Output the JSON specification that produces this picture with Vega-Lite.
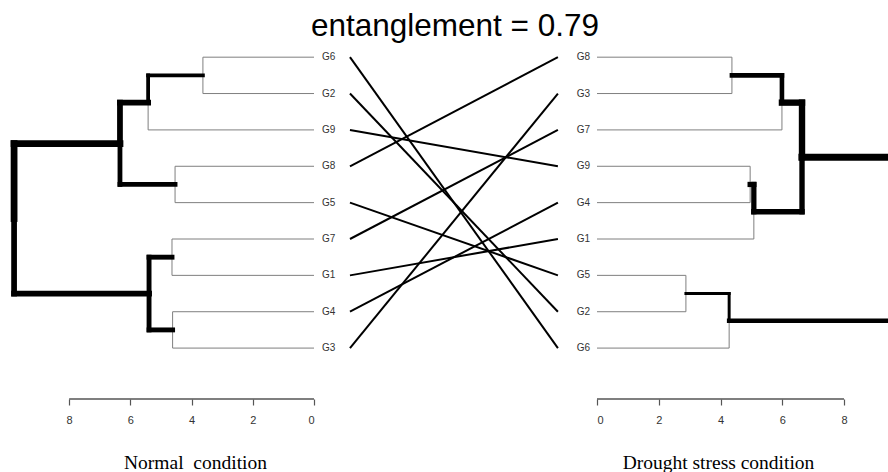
{
  "$schema": "https://vega.github.io/schema/vega-lite/v6.json",
  "usermeta": {"embedOptions": {"actions": false}},
  "padding": {"left": 0, "right": 0, "top": 10, "bottom": 0},
  "title": {"text": "entanglement = 0.79", "font": "Liberation Sans", "fontSize": 31.5, "fontWeight": "normal", "color": "black", "anchor": "middle", "dx": 11, "offset": -3},
  "config": {"view": {"stroke": null}, "concat": {"spacing": 0}},
  "bounds": "flush",
  "spacing": 0,
  "resolve": {"scale": {"x": "independent"}, "axis": {"x": "independent"}},
  "datasets": {
    "left": [
      {"ph": 9.8, "pp": 5.4375, "ch": 6.34, "cp": 3.375, "label": "A"},
      {"ph": 9.8, "pp": 5.4375, "ch": 5.39, "cp": 7.5, "label": "B"},
      {"ph": 6.34, "pp": 3.375, "ch": 5.42, "cp": 2.25, "label": "A1"},
      {"ph": 6.34, "pp": 3.375, "ch": 4.54, "cp": 4.5, "label": "A2"},
      {"ph": 5.42, "pp": 2.25, "ch": 3.63, "cp": 1.5, "label": "A11"},
      {"ph": 5.42, "pp": 2.25, "ch": 0, "cp": 3, "label": "G9"},
      {"ph": 3.63, "pp": 1.5, "ch": 0, "cp": 1, "label": "G6"},
      {"ph": 3.63, "pp": 1.5, "ch": 0, "cp": 2, "label": "G2"},
      {"ph": 4.54, "pp": 4.5, "ch": 0, "cp": 4, "label": "G8"},
      {"ph": 4.54, "pp": 4.5, "ch": 0, "cp": 5, "label": "G5"},
      {"ph": 5.39, "pp": 7.5, "ch": 4.64, "cp": 6.5, "label": "B1"},
      {"ph": 5.39, "pp": 7.5, "ch": 4.62, "cp": 8.5, "label": "B2"},
      {"ph": 4.64, "pp": 6.5, "ch": 0, "cp": 6, "label": "G7"},
      {"ph": 4.64, "pp": 6.5, "ch": 0, "cp": 7, "label": "G1"},
      {"ph": 4.62, "pp": 8.5, "ch": 0, "cp": 8, "label": "G4"},
      {"ph": 4.62, "pp": 8.5, "ch": 0, "cp": 9, "label": "G3"}
    ],
    "right": [
      {"ph": 9.9, "pp": 6, "ch": 6.64, "cp": 3.75, "label": "A"},
      {"ph": 9.9, "pp": 6, "ch": 4.28, "cp": 8.25, "label": "B"},
      {"ph": 6.64, "pp": 3.75, "ch": 5.99, "cp": 2.25, "label": "A1"},
      {"ph": 6.64, "pp": 3.75, "ch": 5.08, "cp": 5.25, "label": "A2"},
      {"ph": 5.99, "pp": 2.25, "ch": 4.37, "cp": 1.5, "label": "A11"},
      {"ph": 5.99, "pp": 2.25, "ch": 0, "cp": 3, "label": "G7"},
      {"ph": 4.37, "pp": 1.5, "ch": 0, "cp": 1, "label": "G8"},
      {"ph": 4.37, "pp": 1.5, "ch": 0, "cp": 2, "label": "G3"},
      {"ph": 5.08, "pp": 5.25, "ch": 4.96, "cp": 4.5, "label": "A21"},
      {"ph": 5.08, "pp": 5.25, "ch": 0, "cp": 6, "label": "G1"},
      {"ph": 4.96, "pp": 4.5, "ch": 0, "cp": 4, "label": "G9"},
      {"ph": 4.96, "pp": 4.5, "ch": 0, "cp": 5, "label": "G4"},
      {"ph": 4.28, "pp": 8.25, "ch": 2.88, "cp": 7.5, "label": "B1"},
      {"ph": 4.28, "pp": 8.25, "ch": 0, "cp": 9, "label": "G6"},
      {"ph": 2.88, "pp": 7.5, "ch": 0, "cp": 7, "label": "G5"},
      {"ph": 2.88, "pp": 7.5, "ch": 0, "cp": 8, "label": "G2"}
    ],
    "links": [
      {"gene": "G6", "l": 1, "r": 9},
      {"gene": "G2", "l": 2, "r": 8},
      {"gene": "G9", "l": 3, "r": 4},
      {"gene": "G8", "l": 4, "r": 1},
      {"gene": "G5", "l": 5, "r": 7},
      {"gene": "G7", "l": 6, "r": 3},
      {"gene": "G1", "l": 7, "r": 6},
      {"gene": "G4", "l": 8, "r": 5},
      {"gene": "G3", "l": 9, "r": 2}
    ],
    "axisrule": [{"from": 0, "to": 8, "base": 10.4}]
  },
  "hconcat": [
    {
      "width": 314,
      "height": 360,
      "data": {"name": "left"},
      "layer": [
        {
          "data": {"name": "axisrule"},
          "mark": {"type": "rule", "color": "#555", "strokeWidth": 1.5},
          "encoding": {
            "x": {"field": "from", "type": "quantitative", "scale": {"domain": [0, 10.26], "reverse": true, "nice": false, "zero": false},
              "axis": {"values": [0, 2, 4, 6, 8], "domain": false, "grid": false, "tickSize": 6, "tickColor": "#555", "tickWidth": 1.2, "labelFont": "Liberation Sans", "labelFontSize": 11, "labelColor": "#333", "labelPadding": 9, "title": "Normal\u00a0 condition", "titleFont": "Liberation Serif", "titleFontSize": 19.5, "titleFontWeight": "normal", "titleColor": "black", "titleX": 195, "titleY": 69, "titleBaseline": "alphabetic", "titleAnchor": "middle"}},
            "x2": {"field": "to"},
            "y": {"field": "base", "type": "quantitative", "scale": {"domain": [0.5, 10.4], "reverse": true, "nice": false, "zero": false}, "axis": null}
          }
        },
        {
          "transform": [{"filter": "datum.ch == 0"}],
          "mark": {"type": "rule", "color": "#7f7f7f", "strokeWidth": 1},
          "encoding": {
            "x": {"field": "ph", "type": "quantitative"},
            "y": {"field": "pp", "type": "quantitative"},
            "y2": {"field": "cp"}
          }
        },
        {
          "transform": [{"filter": "datum.ch == 0"}],
          "mark": {"type": "rule", "color": "#7f7f7f", "strokeWidth": 1},
          "encoding": {
            "x": {"field": "ph", "type": "quantitative"},
            "x2": {"field": "ch"},
            "y": {"field": "cp", "type": "quantitative"}
          }
        },
        {
          "transform": [{"filter": "datum.ch > 0"}],
          "mark": {"type": "rule", "color": "black", "strokeCap": "square"},
          "encoding": {
            "x": {"field": "ph", "type": "quantitative"},
            "y": {"field": "pp", "type": "quantitative"},
            "y2": {"field": "cp"},
            "strokeWidth": {"field": "ch", "type": "quantitative", "scale": {"domain": [2, 7], "range": [2, 7.5], "zero": false}, "legend": null}
          }
        },
        {
          "transform": [{"filter": "datum.ch > 0"}],
          "mark": {"type": "rule", "color": "black", "strokeCap": "square"},
          "encoding": {
            "x": {"field": "ph", "type": "quantitative"},
            "x2": {"field": "ch"},
            "y": {"field": "cp", "type": "quantitative"},
            "strokeWidth": {"field": "ch", "type": "quantitative", "scale": {"domain": [2, 7], "range": [2, 7.5], "zero": false}, "legend": null}
          }
        },
        {
          "transform": [{"filter": "datum.ch == 0"}],
          "mark": {"type": "text", "align": "left", "baseline": "middle", "dx": 8, "font": "Liberation Sans", "fontSize": 10, "color": "#333"},
          "encoding": {
            "x": {"field": "ch", "type": "quantitative"},
            "y": {"field": "cp", "type": "quantitative"},
            "text": {"field": "label"}
          }
        }
      ]
    },
    {
      "width": 283,
      "height": 360,
      "data": {"name": "links"},
      "mark": {"type": "rule", "color": "black", "strokeWidth": 2},
      "encoding": {
        "x": {"datum": 0, "type": "quantitative", "scale": {"domain": [-0.173, 1.188], "nice": false, "zero": false}, "axis": null},
        "x2": {"datum": 1},
        "y": {"field": "l", "type": "quantitative", "scale": {"domain": [0.5, 10.4], "reverse": true, "nice": false, "zero": false}, "axis": null},
        "y2": {"field": "r"}
      }
    },
    {
      "width": 291,
      "height": 360,
      "data": {"name": "right"},
      "layer": [
        {
          "data": {"name": "axisrule"},
          "mark": {"type": "rule", "color": "#555", "strokeWidth": 1.5},
          "encoding": {
            "x": {"field": "from", "type": "quantitative", "scale": {"domain": [0, 9.425], "nice": false, "zero": false},
              "axis": {"values": [0, 2, 4, 6, 8], "domain": false, "grid": false, "tickSize": 6, "tickColor": "#555", "tickWidth": 1.2, "labelFont": "Liberation Sans", "labelFontSize": 11, "labelColor": "#333", "labelPadding": 9, "title": "Drought stress condition", "titleFont": "Liberation Serif", "titleFontSize": 19.5, "titleFontWeight": "normal", "titleColor": "black", "titleX": 121, "titleY": 69, "titleBaseline": "alphabetic", "titleAnchor": "middle"}},
            "x2": {"field": "to"},
            "y": {"field": "base", "type": "quantitative", "scale": {"domain": [0.5, 10.4], "reverse": true, "nice": false, "zero": false}, "axis": null}
          }
        },
        {
          "transform": [{"filter": "datum.ch == 0"}],
          "mark": {"type": "rule", "color": "#7f7f7f", "strokeWidth": 1, "clip": true},
          "encoding": {
            "x": {"field": "ph", "type": "quantitative"},
            "y": {"field": "pp", "type": "quantitative"},
            "y2": {"field": "cp"}
          }
        },
        {
          "transform": [{"filter": "datum.ch == 0"}],
          "mark": {"type": "rule", "color": "#7f7f7f", "strokeWidth": 1, "clip": true},
          "encoding": {
            "x": {"field": "ph", "type": "quantitative"},
            "x2": {"field": "ch"},
            "y": {"field": "cp", "type": "quantitative"}
          }
        },
        {
          "transform": [{"filter": "datum.ch > 0"}],
          "mark": {"type": "rule", "color": "black", "strokeCap": "square", "clip": true},
          "encoding": {
            "x": {"field": "ph", "type": "quantitative"},
            "y": {"field": "pp", "type": "quantitative"},
            "y2": {"field": "cp"},
            "strokeWidth": {"field": "ch", "type": "quantitative", "scale": {"domain": [2, 7], "range": [2, 7.5], "zero": false}, "legend": null}
          }
        },
        {
          "transform": [{"filter": "datum.ch > 0"}],
          "mark": {"type": "rule", "color": "black", "strokeCap": "square", "clip": true},
          "encoding": {
            "x": {"field": "ph", "type": "quantitative"},
            "x2": {"field": "ch"},
            "y": {"field": "cp", "type": "quantitative"},
            "strokeWidth": {"field": "ch", "type": "quantitative", "scale": {"domain": [2, 7], "range": [2, 7.5], "zero": false}, "legend": null}
          }
        },
        {
          "transform": [{"filter": "datum.ch == 0"}],
          "mark": {"type": "text", "align": "right", "baseline": "middle", "dx": -7, "font": "Liberation Sans", "fontSize": 10, "color": "#333"},
          "encoding": {
            "x": {"field": "ch", "type": "quantitative"},
            "y": {"field": "cp", "type": "quantitative"},
            "text": {"field": "label"}
          }
        }
      ]
    }
  ]
}
